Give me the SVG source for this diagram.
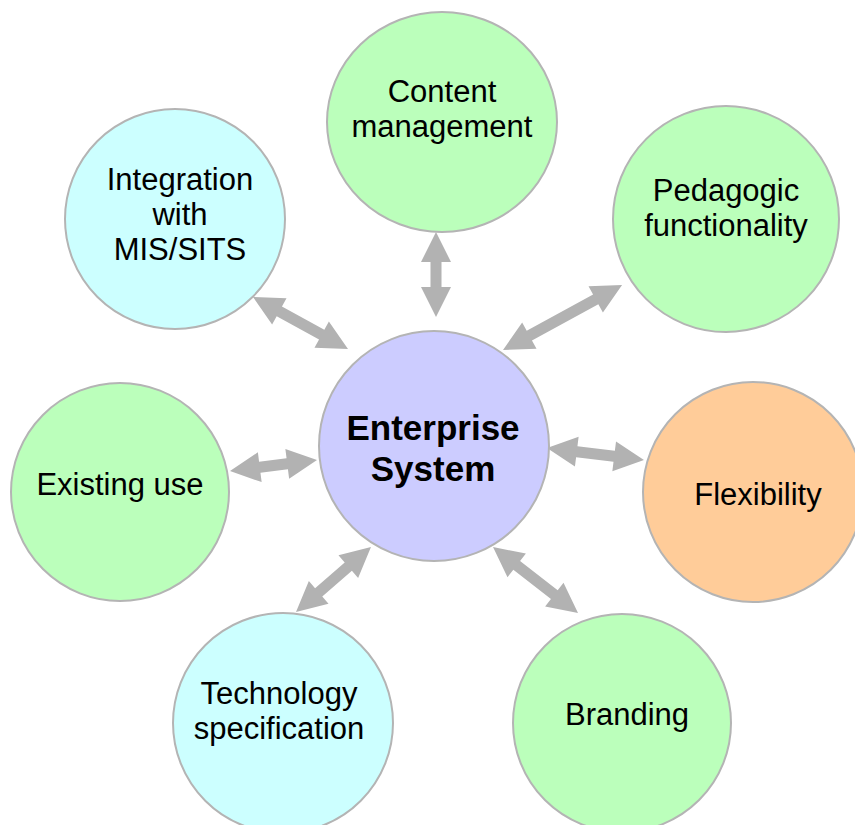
<svg xmlns="http://www.w3.org/2000/svg" width="855" height="825" viewBox="0 0 855 825">
  <style>
    .node { stroke: #b4b4b4; stroke-width: 2; }
    .green { fill: #bbffbb; }
    .cyan { fill: #ccffff; }
    .blue { fill: #ccccff; }
    .orange { fill: #ffcc99; }
    .label { font-family: "Liberation Sans", Arial, sans-serif; font-size: 31px; fill: #000; text-anchor: middle; }
    .title { font-family: "Liberation Sans", Arial, sans-serif; font-size: 35px; font-weight: bold; fill: #000; text-anchor: middle; }
    .arrow { fill: #b2b2b2; }
  </style>
  <rect width="855" height="825" fill="#ffffff"/>

  <!-- connectors: double-headed block arrows -->
  <g id="connectors">
    <polygon class="arrow" transform="translate(253,297) rotate(28.7)" points="0,0 30,-15 30,-5.5 78.3,-5.5 78.3,-15 108.3,0 78.3,15 78.3,5.5 30,5.5 30,15"/>
    <polygon class="arrow" transform="translate(436,232) rotate(90)" points="0,0 30,-15 30,-5.5 55,-5.5 55,-15 85,0 55,15 55,5.5 30,5.5 30,15"/>
    <polygon class="arrow" transform="translate(503,350) rotate(-28.6)" points="0,0 30,-15 30,-5.5 105.6,-5.5 105.6,-15 135.6,0 105.6,15 105.6,5.5 30,5.5 30,15"/>
    <polygon class="arrow" transform="translate(230,471) rotate(-7.2)" points="0,0 30,-15 30,-5.5 57.7,-5.5 57.7,-15 87.7,0 57.7,15 57.7,5.5 30,5.5 30,15"/>
    <polygon class="arrow" transform="translate(547,448) rotate(7.05)" points="0,0 30,-15 30,-5.5 67.7,-5.5 67.7,-15 97.7,0 67.7,15 67.7,5.5 30,5.5 30,15"/>
    <polygon class="arrow" transform="translate(296,612) rotate(-40.9)" points="0,0 30,-15 30,-5.5 69.2,-5.5 69.2,-15 99.2,0 69.2,15 69.2,5.5 30,5.5 30,15"/>
    <polygon class="arrow" transform="translate(493,547) rotate(37.8)" points="0,0 30,-15 30,-5.5 77.6,-5.5 77.6,-15 107.6,0 77.6,15 77.6,5.5 30,5.5 30,15"/>
  </g>

  <g id="content-management">
    <ellipse class="node green" cx="442" cy="122" rx="115" ry="110"/>
    <text class="label" x="442" y="102">Content</text>
    <text class="label" x="442" y="137">management</text>
  </g>

  <g id="integration">
    <circle class="node cyan" cx="175" cy="219" r="110"/>
    <text class="label" x="180" y="190">Integration</text>
    <text class="label" x="180" y="225">with</text>
    <text class="label" x="180" y="260">MIS/SITS</text>
  </g>

  <g id="pedagogic">
    <circle class="node green" cx="726" cy="219" r="113"/>
    <text class="label" x="726" y="201">Pedagogic</text>
    <text class="label" x="726" y="236">functionality</text>
  </g>

  <g id="enterprise-system">
    <circle class="node blue" cx="434" cy="446" r="115"/>
    <text class="title" x="433" y="440">Enterprise</text>
    <text class="title" x="433" y="481">System</text>
  </g>

  <g id="existing-use">
    <circle class="node green" cx="120" cy="492" r="109"/>
    <text class="label" x="120" y="495">Existing use</text>
  </g>

  <g id="flexibility">
    <circle class="node orange" cx="753" cy="492" r="110"/>
    <text class="label" x="758" y="505">Flexibility</text>
  </g>

  <g id="technology-specification">
    <circle class="node cyan" cx="283" cy="723" r="110"/>
    <text class="label" x="279" y="704">Technology</text>
    <text class="label" x="279" y="739">specification</text>
  </g>

  <g id="branding">
    <circle class="node green" cx="622" cy="723" r="109"/>
    <text class="label" x="627" y="725">Branding</text>
  </g>
</svg>
